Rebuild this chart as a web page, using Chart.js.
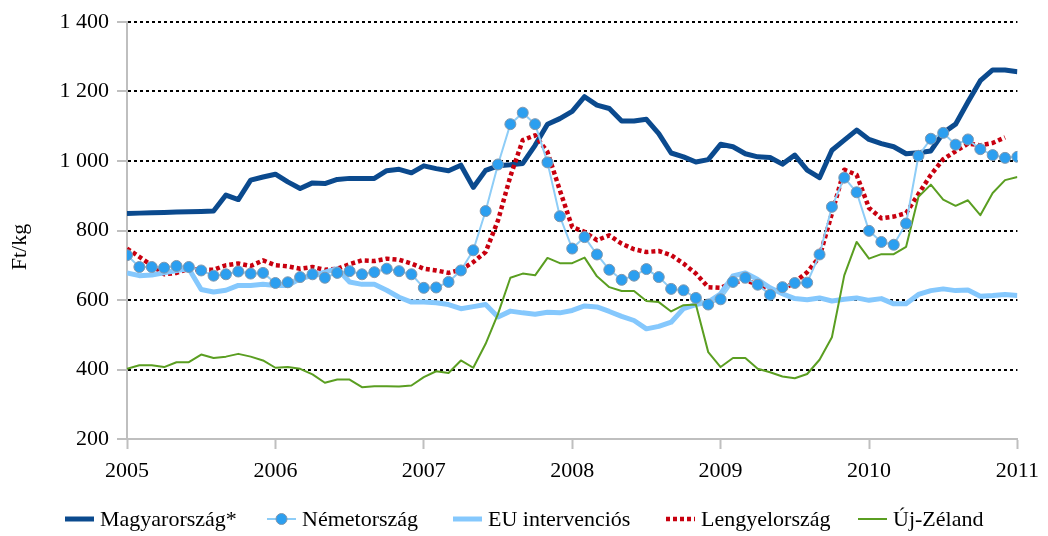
<!DOCTYPE html>
<html lang="hu">
<head>
<meta charset="utf-8">
<title>Ft/kg</title>
<script src="https://cdn.jsdelivr.net/npm/chart.js@4/dist/chart.umd.min.js"></script>
<style>
    html, body { margin: 0; padding: 0; background: #fff; }
    #wrap { width: 1048px; height: 536px; }
</style>
</head>
<body>
<div id="wrap"><canvas id="price-chart" width="1048" height="536"></canvas></div>
<script>
// tick labels
const years = [2005, 2006, 2007, 2008, 2009, 2010, 2011];
// month index since Jan 2005 (0 .. 72)
const months = Array.from({ length: 73 }, (_, i) => i);

// series (Ft/kg), monthly
const magyarorszag = [
    849, 850, 851, 852, 853, 854, 855, 856, 902, 889, 945, 954,
    962, 940, 921, 937, 935, 947, 950, 950, 950, 972, 976, 966,
    986, 978, 972, 988, 924, 973, 986, 989, 993, 1045, 1106, 1122,
    1143, 1185, 1161, 1151, 1115, 1115, 1120, 1079, 1023, 1012, 997, 1004,
    1048, 1041, 1021, 1012, 1010, 991, 1017, 974, 952, 1031, 1060, 1089,
    1062, 1050, 1041, 1021, 1024, 1029, 1081, 1106, 1170, 1231, 1262, 1262,
    1257
];
const nemetorszag = [
    729, 695, 695, 693, 698, 695, 685, 670, 674, 682, 676, 678,
    649, 651, 666, 674, 664, 678, 683, 674, 680, 690, 683, 674,
    635, 636, 652, 685, 743, 856, 990, 1106, 1139, 1106, 996, 841,
    748, 781, 731, 687, 658, 670, 689, 666, 632, 628, 606, 587,
    602, 652, 664, 644, 615, 637, 649, 650, 731, 868, 952, 910,
    799, 767, 759, 820, 1015, 1064, 1081, 1047, 1062, 1034, 1017, 1009,
    1012
];
const euIntervencios = [
    678, 670, 672, 678, 685, 690, 630, 623, 628, 642, 642, 645,
    642, 642, 661, 671, 680, 690, 652, 645, 645, 628, 608, 594,
    594, 592, 587, 575, 581, 587, 551, 568, 563, 559, 565, 563,
    570, 583, 580, 567, 553, 541, 517, 524, 536, 575, 587, 594,
    618, 669, 678, 659, 635, 618, 604, 601, 606, 597, 602, 606,
    599, 604, 589, 589, 616, 627, 632, 627, 629, 611, 613, 616,
    613
];
const lengyelorszag = [
    748, 724, 700, 674, 678, 690, 687, 687, 700, 705, 698, 714,
    700, 697, 690, 695, 687, 690, 703, 714, 712, 719, 716, 705,
    690, 685, 678, 687, 709, 738, 829, 956, 1060, 1074, 1026, 916,
    810, 796, 772, 786, 762, 746, 738, 741, 729, 705, 676, 637,
    635, 650, 656, 645, 628, 628, 652, 680, 724, 849, 975, 960,
    865, 835, 840, 850, 905, 960, 1005, 1028, 1050, 1045, 1052, 1068
];
const ujZeland = [
    402, 412, 412, 407, 421, 421, 443, 433, 437, 445, 437, 426,
    405, 407, 402, 386, 362, 371, 371, 349, 352, 352, 351, 354,
    378, 395, 390, 426, 405, 474, 560, 664, 676, 671, 721, 706,
    706, 722, 668, 637, 626, 626, 597, 594, 567, 585, 587, 450,
    407, 433, 433, 402, 392, 380, 375, 387, 428, 493, 671, 767,
    719, 732, 732, 753, 897, 932, 889, 871, 887, 844, 908, 945,
    954
];

const FONT = 'Liberation Serif, "DejaVu Serif", serif';
const AXIS_GRAY = '#bfbfbf';

const series = [
    { label: 'Magyarország*', data: magyarorszag, color: '#0b4a8e', width: 5, order: 5 },
    { label: 'Németország', data: nemetorszag, color: '#8ecdf7', width: 2, order: 1, marker: '#2c9ff0' },
    { label: 'EU intervenciós', data: euIntervencios, color: '#85c8fd', width: 5, order: 3 },
    { label: 'Lengyelország', data: lengyelorszag, color: '#c8000f', width: 4.5, order: 4, dash: [4, 3] },
    { label: 'Új-Zéland', data: ujZeland, color: '#5a9e21', width: 2, order: 2 }
];

// legend drawn below the axis, one sample + text per series
const legendX = [65, 267, 453, 666, 858];
const bottomLegend = {
    id: 'bottomLegend',
    afterDraw(chart) {
        const ctx = chart.ctx;
        const y = 519;
        ctx.save();
        ctx.font = '22px ' + FONT;
        ctx.textBaseline = 'middle';
        ctx.fillStyle = '#000';
        series.forEach((s, i) => {
            const x0 = legendX[i];
            ctx.beginPath();
            ctx.setLineDash(s.dash || []);
            ctx.strokeStyle = s.color;
            ctx.lineWidth = s.width;
            ctx.moveTo(x0, y);
            ctx.lineTo(x0 + 29, y);
            ctx.stroke();
            ctx.setLineDash([]);
            if (s.marker) {
                ctx.beginPath();
                ctx.arc(x0 + 14.5, y, 5.5, 0, Math.PI * 2);
                ctx.fillStyle = s.marker;
                ctx.fill();
                ctx.strokeStyle = '#8097ad';
                ctx.lineWidth = 1;
                ctx.stroke();
                ctx.fillStyle = '#000';
            }
            ctx.fillText(s.label, x0 + 35, y + 1);
        });
        ctx.restore();
    }
};

function spaced(v) {
    return String(v).replace(/\B(?=(\d{3})+(?!\d))/g, ' ');
}

document.addEventListener('DOMContentLoaded', () => {
    const ctx = document.getElementById('price-chart');
    new Chart(ctx, {
        type: 'line',
        data: {
            labels: months,
            datasets: series.map(s => ({
                label: s.label,
                data: s.data,
                order: s.order,
                borderColor: s.color,
                backgroundColor: s.marker || s.color,
                borderWidth: s.width,
                borderDash: s.dash || [],
                borderJoinStyle: 'round',
                borderCapStyle: 'butt',
                tension: 0,
                fill: false,
                pointRadius: s.marker ? 5.5 : 0,
                pointBackgroundColor: s.marker,
                pointBorderColor: '#8097ad',
                pointBorderWidth: 1
            }))
        },
        options: {
            responsive: false,
            animation: false,
            layout: { padding: { top: 22, right: 30, bottom: 0, left: 0 } },
            plugins: {
                legend: { display: false },
                tooltip: { enabled: false }
            },
            scales: {
                x: {
                    type: 'linear',
                    min: 0,
                    max: 72,
                    afterFit: scale => { scale.height = 97; },
                    grid: {
                        drawOnChartArea: false,
                        drawTicks: true,
                        tickLength: 10,
                        tickColor: AXIS_GRAY,
                        tickWidth: 2
                    },
                    border: { color: AXIS_GRAY, width: 2 },
                    ticks: {
                        stepSize: 12,
                        padding: 9,
                        color: '#000',
                        font: { family: FONT, size: 22 },
                        maxRotation: 0,
                        callback: v => years[v / 12]
                    }
                },
                y: {
                    min: 200,
                    max: 1400,
                    afterFit: scale => { scale.width = 127; },
                    grid: {
                        color: c => (c.tick && c.tick.value === 200) ? 'rgba(0,0,0,0)' : '#000',
                        lineWidth: 2,
                        tickLength: 10,
                        tickColor: AXIS_GRAY,
                        tickWidth: 2,
                        tickBorderDash: []
                    },
                    border: { color: AXIS_GRAY, width: 2, dash: [3, 3] },
                    title: {
                        display: true,
                        text: 'Ft/kg      ',
                        color: '#000',
                        font: { family: FONT, size: 22 },
                        padding: { top: 7, bottom: 0 }
                    },
                    ticks: {
                        stepSize: 200,
                        padding: 8,
                        color: '#000',
                        font: { family: FONT, size: 22 },
                        callback: v => spaced(v)
                    }
                }
            }
        },
        plugins: [bottomLegend]
    });
});
</script>
</body>
</html>
